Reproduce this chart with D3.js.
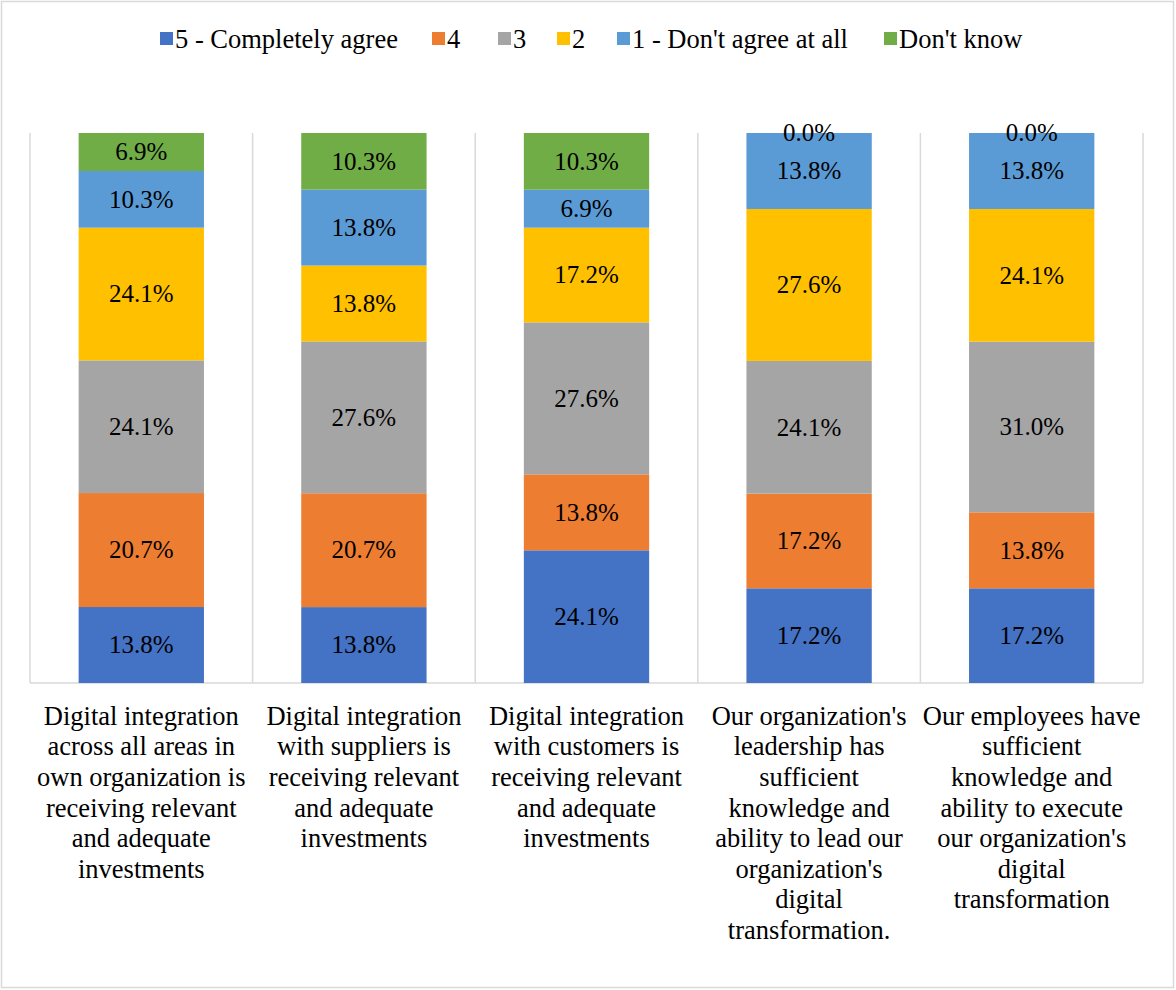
<!DOCTYPE html>
<html><head><meta charset="utf-8">
<script src="https://cdn.jsdelivr.net/npm/d3@7"></script>
</head><body style="margin:0;background:#fff">
<script>
const categories = [
  "Digital integration|across all areas in|own organization is|receiving relevant|and adequate|investments",
  "Digital integration|with suppliers is|receiving relevant|and adequate|investments",
  "Digital integration|with customers is|receiving relevant|and adequate|investments",
  "Our organization's|leadership has|sufficient|knowledge and|ability to lead our|organization's|digital|transformation.",
  "Our employees have|sufficient|knowledge and|ability to execute|our organization's|digital|transformation"
];
const seriesNames = ["5 - Completely agree","4","3","2","1 - Don't agree at all","Don't know"];
const s5 = [13.8,13.8,24.1,17.2,17.2];
const s4 = [20.7,20.7,13.8,17.2,13.8];
const s3 = [24.1,27.6,27.6,24.1,31.0];
const s2 = [24.1,13.8,17.2,27.6,24.1];
const s1 = [10.3,13.8,6.9,13.8,13.8];
const sDK = [6.9,10.3,10.3,0.0,0.0];
const colors = ["#4472C4","#ED7D31","#A5A5A5","#FFC000","#5B9BD5","#70AD47"];

const FONT = '"Liberation Serif"';
const W=1176,H=990;
const svg=d3.select("body").append("svg").attr("width",W).attr("height",H).style("display","block");
svg.append("rect").attr("x",1.5).attr("y",1.5).attr("width",W-4).attr("height",H-4).attr("fill","#fff").attr("stroke","#D9D9D9").attr("stroke-width",1.5);

const m={left:30,right:1143,top:133,bottom:683};
const allSeries=[s5,s4,s3,s2,s1,sDK];
const rows=categories.map((c,i)=>{const r={cat:c};seriesNames.forEach((n,j)=>r[n]=allSeries[j][i]);return r;});
const stack=d3.stack().keys(seriesNames).offset(d3.stackOffsetExpand);
const stacked=stack(rows);

const x=d3.scaleBand().domain(categories).range([m.left,m.right]).paddingInner(0.437).paddingOuter(0.2185);
const y=d3.scaleLinear().domain([0,1]).range([m.bottom,m.top]);
const step=(m.right-m.left)/categories.length;

const g=svg.append("g");
for(let i=0;i<=categories.length;i++){
  const xx=m.left+i*step;
  g.append("line").attr("x1",xx).attr("x2",xx).attr("y1",m.top).attr("y2",m.bottom).attr("stroke","#D9D9D9").attr("stroke-width",1.5);
}
g.append("line").attr("x1",m.left).attr("x2",m.right).attr("y1",m.bottom).attr("y2",m.bottom).attr("stroke","#D9D9D9").attr("stroke-width",1.5);

stacked.forEach((layer,j)=>{
  svg.append("g").selectAll("rect").data(layer).join("rect")
    .attr("x",d=>x(d.data.cat)).attr("width",x.bandwidth())
    .attr("y",d=>y(d[1])).attr("height",d=>Math.max(0,y(d[0])-y(d[1])))
    .attr("fill",colors[j]);
});
stacked.forEach((layer,j)=>{
  svg.append("g").selectAll("text").data(layer).join("text")
    .attr("x",d=>x(d.data.cat)+x.bandwidth()/2)
    .attr("y",d=>(y(d[0])+y(d[1]))/2)
    .attr("dy","0.33em").attr("text-anchor","middle")
    .attr("font-size",25).style("font-family",FONT).attr("fill","#000")
    .text(d=>d.data[layer.key].toFixed(1)+"%");
});

categories.forEach(c=>{
  const cx=x(c)+x.bandwidth()/2;
  const t=svg.append("text").attr("text-anchor","middle").attr("font-size",26.5).style("font-family",FONT).attr("fill","#000");
  c.split("|").forEach((line,i)=>{
    t.append("tspan").attr("x",cx).attr("y",716+i*30.6).attr("dy","0.33em").style("font-family",FONT).text(line);
  });
});

const legendX=[160,432,498,557,617,884];
seriesNames.forEach((n,j)=>{
  svg.append("rect").attr("x",legendX[j]).attr("y",32).attr("width",13).attr("height",13).attr("fill",colors[j]);
  svg.append("text").attr("x",legendX[j]+15).attr("y",39).attr("dy","0.33em").attr("font-size",26.5).style("font-family",FONT).attr("fill","#000").text(n);
});
</script>
</body></html>
